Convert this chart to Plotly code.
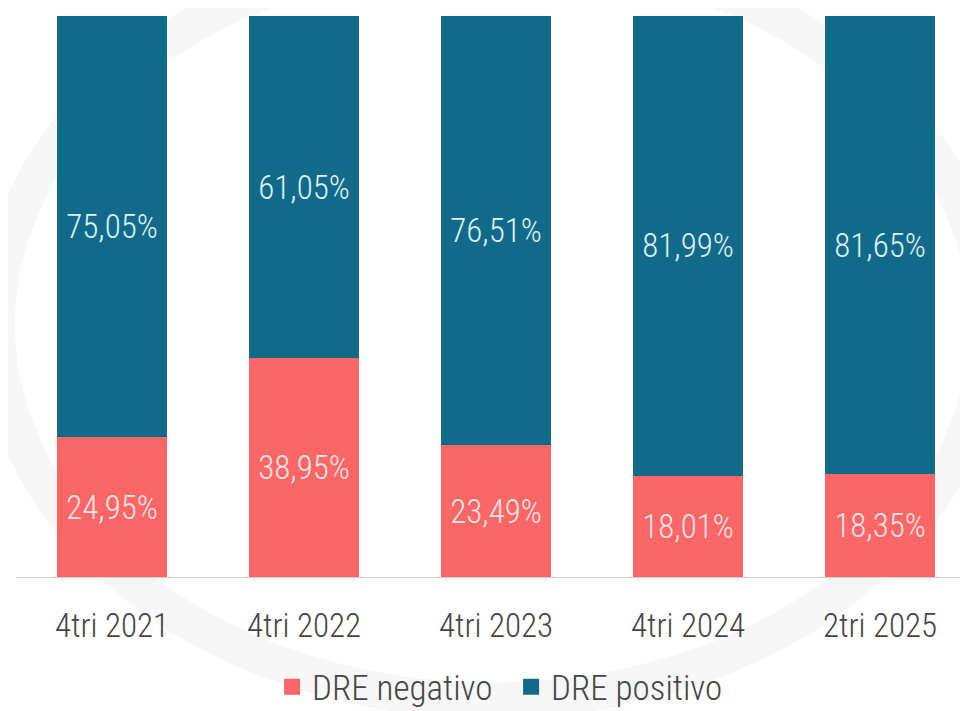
import plotly.graph_objects as go

categories = ["4tri 2021", "4tri 2022", "4tri 2023", "4tri 2024", "2tri 2025"]
dre_negativo = [24.95, 38.95, 23.49, 18.01, 18.35]
dre_positivo = [75.05, 61.05, 76.51, 81.99, 81.65]
series_names = ["DRE negativo", "DRE positivo"]

FONT = "Roboto Condensed, Liberation Sans Narrow, Roboto, sans-serif"
NEG_COLOR = "#FB6667"
POS_COLOR = "#116A89"
TXT = "#454545"

def fmt(v):
    return f"{v:.2f}".replace(".", ",") + "%"

x_idx = list(range(len(categories)))

fig = go.Figure()
fig.add_trace(go.Bar(
    x=x_idx, y=dre_negativo, name=series_names[0], showlegend=False,
    marker=dict(color=NEG_COLOR, line=dict(width=0)),
    text=[fmt(v) for v in dre_negativo], textposition="inside",
    insidetextanchor="middle", constraintext="none",
    textfont=dict(family=FONT, size=33, color="#FFE6E6", weight=300),
    hoverinfo="skip",
))
fig.add_trace(go.Bar(
    x=x_idx, y=dre_positivo, name=series_names[1], showlegend=False,
    marker=dict(color=POS_COLOR, line=dict(width=0)),
    text=[fmt(v) for v in dre_positivo], textposition="inside",
    insidetextanchor="middle", constraintext="none",
    textfont=dict(family=FONT, size=33, color="#DDF2FA", weight=300),
    hoverinfo="skip",
))
# legend entries with large square swatches
for name, col in zip(series_names, [NEG_COLOR, POS_COLOR]):
    fig.add_trace(go.Scatter(
        x=[None], y=[None], mode="markers", name=name,
        marker=dict(symbol="square", size=20, color=col),
        hoverinfo="skip",
    ))

# faint circular watermark in the background
fig.add_shape(type="circle", xref="paper", yref="paper",
              x0=-0.02, x1=1.02, y0=-0.22, y1=1.12,
              line=dict(color="#F7F7F7", width=36), fillcolor="rgba(0,0,0,0)",
              layer="below")

plot_w = 960 - 8
fig.update_layout(
    width=960, height=703,
    margin=dict(l=8, r=0, t=8, b=134, autoexpand=False),
    paper_bgcolor="white", plot_bgcolor="rgba(0,0,0,0)",
    barmode="stack", bargap=0.427,
    font=dict(family=FONT, color=TXT),
    showlegend=True,
    legend=dict(orientation="h", xref="paper", yref="paper",
                x=0.269, xanchor="left", y=-0.196, yanchor="middle",
                font=dict(family=FONT, size=35, color=TXT, weight=300),
                itemwidth=30, entrywidthmode="pixels", entrywidth=194,
                traceorder="normal", bgcolor="rgba(0,0,0,0)"),
    xaxis=dict(
        tickmode="array", tickvals=x_idx, ticktext=categories,
        range=[-0.5, -0.5 + plot_w / 192.0],
        showgrid=False, zeroline=False,
        showline=True, linecolor="#CFCFCF", linewidth=1,
        ticks="outside", ticklen=19, tickcolor="rgba(0,0,0,0)",
        tickfont=dict(family=FONT, size=33, color=TXT, weight=300),
    ),
    yaxis=dict(range=[0, 100], visible=False, fixedrange=True),
)

fig.write_html("out.html")
